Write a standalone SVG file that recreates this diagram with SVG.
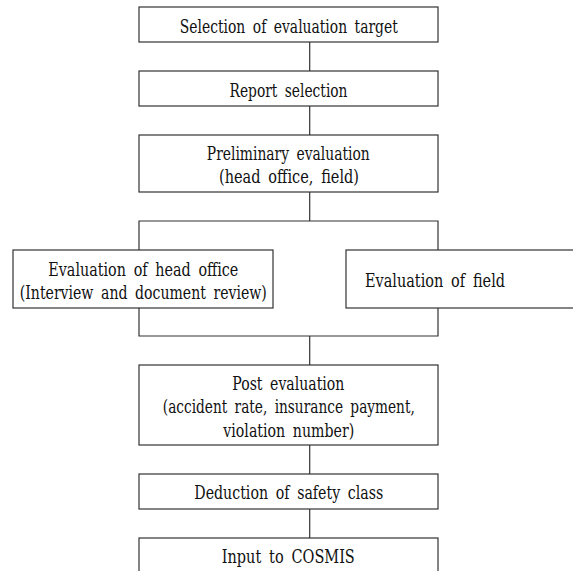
<svg xmlns="http://www.w3.org/2000/svg" width="573" height="571" viewBox="0 0 573 571">
<defs>
<style>
.box{fill:#fff;stroke:#333;stroke-width:1.2}
.ln{fill:none;stroke:#333;stroke-width:1.2}
text{font-family:"DejaVu Serif","Liberation Serif",serif;font-size:18px;fill:#111;text-anchor:middle;word-spacing:4px}
</style>
</defs>
<rect width="573" height="571" fill="#fff"/>
<g id="connectors">
<path class="ln" d="M309.7 42V71M309.7 106V135M309.7 192V221M139 250V221H438V250M139 308V336H438V308M309.7 336V365M309.7 445V474M309.7 509V538"/>
</g>
<g id="n1"><rect class="box" x="139" y="7" width="299" height="35"/><text x="288.8" y="32.5" textLength="218" lengthAdjust="spacingAndGlyphs">Selection of evaluation target</text></g>
<g id="n2"><rect class="box" x="139" y="71" width="299" height="35"/><text x="288.5" y="96.5" textLength="118" lengthAdjust="spacingAndGlyphs">Report selection</text></g>
<g id="n3"><rect class="box" x="139" y="135" width="299" height="57"/><text x="288.3" y="159.5" textLength="163" lengthAdjust="spacingAndGlyphs">Preliminary evaluation</text><text x="289" y="182.5" textLength="140" lengthAdjust="spacingAndGlyphs">(head office, field)</text></g>
<g id="n4"><rect class="box" x="13" y="250" width="260" height="58"/><text x="143.3" y="275.5" textLength="190" lengthAdjust="spacingAndGlyphs">Evaluation of head office</text><text x="143.3" y="298.5" textLength="247" lengthAdjust="spacingAndGlyphs">(Interview and document review)</text></g>
<g id="n5"><rect class="box" x="346" y="250" width="240" height="58"/><text x="435" y="287" textLength="140" lengthAdjust="spacingAndGlyphs">Evaluation of field</text></g>
<g id="n6"><rect class="box" x="139" y="365" width="299" height="80"/><text x="288.3" y="389.5" textLength="112" lengthAdjust="spacingAndGlyphs">Post evaluation</text><text x="288.8" y="413" textLength="252" lengthAdjust="spacingAndGlyphs">(accident rate, insurance payment,</text><text x="288.8" y="436.5" textLength="131" lengthAdjust="spacingAndGlyphs">violation number)</text></g>
<g id="n7"><rect class="box" x="139" y="474" width="299" height="35"/><text x="288.8" y="498.5" textLength="189" lengthAdjust="spacingAndGlyphs">Deduction of safety class</text></g>
<g id="n8"><rect class="box" x="139" y="538" width="299" height="45"/><text x="288.3" y="562.5" textLength="133" lengthAdjust="spacingAndGlyphs">Input to COSMIS</text></g>
</svg>
